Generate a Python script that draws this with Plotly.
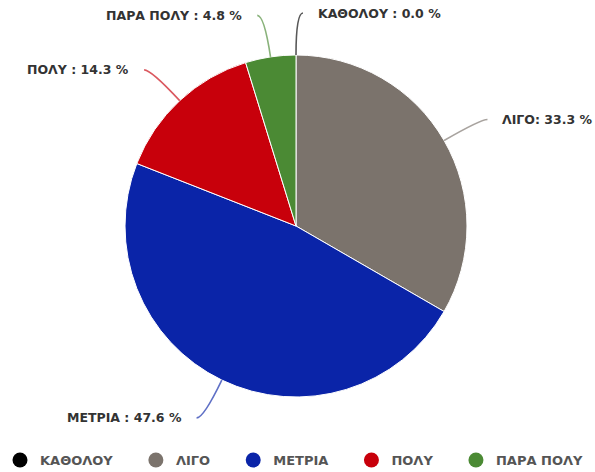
import math
import plotly.graph_objects as go

# Survey answers and counts
categories = ["ΚΑΘΟΛΟΥ", "ΛΙΓΟ", "ΜΕΤΡΙΑ", "ΠΟΛΥ", "ΠΑΡΑ ΠΟΛΥ"]
counts = [0, 7, 10, 3, 1]
separators = [" : ", ": ", " : ", " : ", " : "]
colors = ["#000000", "#7b736c", "#0a24a8", "#c8000b", "#4b8a34"]

W, H = 595, 472
CX, CY, R = 296, 226, 171          # pie centre / radius in pixels
LEG1, LEG2, GAP = 42, 7, 13        # connector lengths and text gap
FONT = "DejaVu Sans, Verdana, sans-serif"

total = sum(counts)
percents = [100.0 * c / total for c in counts]

fig = go.Figure()
fig.add_trace(go.Pie(
    labels=categories,
    values=counts,
    sort=False,
    direction="clockwise",
    rotation=0,
    marker=dict(colors=colors, line=dict(color="white", width=1)),
    textinfo="none",
    hoverinfo="label+percent",
    showlegend=False,
    domain=dict(x=[(CX - R) / W, (CX + R) / W],
                y=[(H - CY - R) / H, (H - CY + R) / H]),
))

# Legend entries with round markers (padded names space the row out)
for i, (name, col) in enumerate(zip(categories, colors)):
    pad = "" if i == len(categories) - 1 else "\u00a0" * 4
    fig.add_trace(go.Scatter(
        x=[None], y=[None], mode="markers", name=name + pad,
        marker=dict(color=col, size=15, symbol="circle"),
    ))


def px_to_paper(x, y):
    return x / W, 1 - y / H


shapes, annotations = [], []
start = 0.0
for name, sep, pct, col in zip(categories, separators, percents, colors):
    span = 360.0 * pct / 100.0
    mid = math.radians(start + span / 2)
    start += span
    s, c = math.sin(mid), math.cos(mid)
    p0 = (CX + R * s, CY - R * c)
    p1 = (CX + (R + LEG1) * s, CY - (R + LEG1) * c)
    side = 1 if s >= -1e-9 else -1
    p2 = (p1[0] + side * LEG2, p1[1])
    a, b, e = px_to_paper(*p0), px_to_paper(*p1), px_to_paper(*p2)
    shapes.append(dict(
        type="path", xref="paper", yref="paper",
        path=f"M {a[0]},{a[1]} Q {b[0]},{b[1]} {e[0]},{e[1]}",
        line=dict(color=col, width=1.6), opacity=0.65,
    ))
    tx, ty = px_to_paper(p2[0] + side * GAP, p2[1])
    annotations.append(dict(
        x=tx, y=ty, xref="paper", yref="paper", showarrow=False,
        text=f"{name}{sep}{pct:.1f} %",
        xanchor="left" if side > 0 else "right", yanchor="middle",
        font=dict(family=FONT, size=12.5, color="#333333", weight="bold"),
    ))

fig.update_layout(
    width=W, height=H,
    margin=dict(l=0, r=0, t=0, b=0, autoexpand=False),
    paper_bgcolor="white", plot_bgcolor="white",
    xaxis=dict(visible=False), yaxis=dict(visible=False),
    shapes=shapes, annotations=annotations,
    legend=dict(
        orientation="h", x=0.0, xanchor="left", y=1 - 460 / H, yanchor="middle",
        font=dict(family=FONT, size=13, color="#555555", weight="bold"),
        bgcolor="rgba(0,0,0,0)",
        itemclick=False, itemdoubleclick=False,
    ),
)

fig.write_html("out.html")
